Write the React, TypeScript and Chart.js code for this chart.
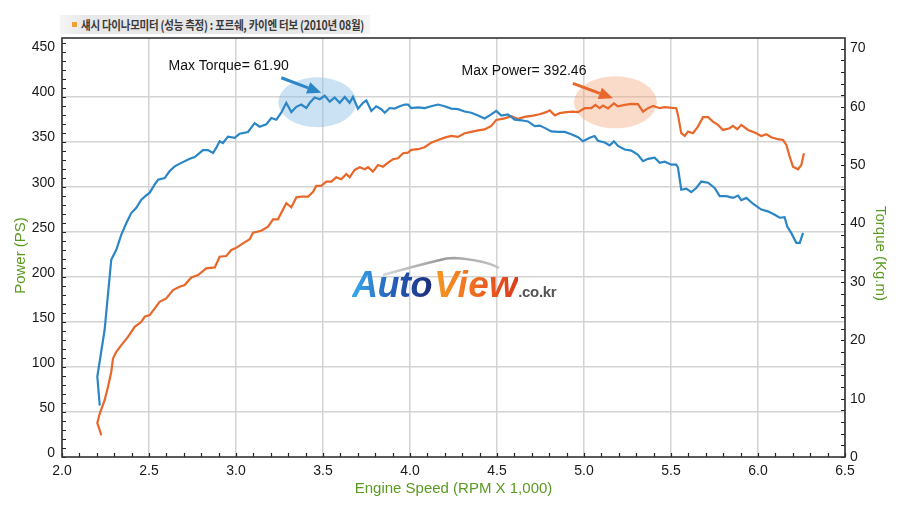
import React, { useEffect, useRef } from "react";
import { Chart, registerables } from "chart.js";

Chart.register(...registerables);

const chartTitle = "섀시 다이나모미터 (성능 측정) : 포르쉐, 카이엔 터보  (2010년 08월)";
const xTitle = "Engine Speed (RPM X 1,000)";
const leftTitle = "Power (PS)";
const rightTitle = "Torque (Kg.m)";
const maxTorqueLabel = "Max Torque= 61.90";
const maxPowerLabel = "Max Power= 392.46";

const rpmTicks = [2.0, 2.5, 3.0, 3.5, 4.0, 4.5, 5.0, 5.5, 6.0, 6.5];
const powerTicks = [0, 50, 100, 150, 200, 250, 300, 350, 400, 450];
const torqueTicks = [0, 10, 20, 30, 40, 50, 60, 70];

// torque curve (right axis, kg.m)
const torqueRpm = [
  2.217, 2.203, 2.245, 2.283, 2.312, 2.341, 2.370, 2.398, 2.427, 2.456,
  2.479, 2.504, 2.533, 2.552, 2.590, 2.619, 2.648, 2.686, 2.734, 2.763,
  2.810, 2.839, 2.868, 2.887, 2.906, 2.925, 2.954, 2.993, 3.021, 3.069,
  3.107, 3.136, 3.174, 3.203, 3.232, 3.260, 3.289, 3.318, 3.347, 3.375,
  3.404, 3.424, 3.452, 3.481, 3.510, 3.539, 3.567, 3.596, 3.625, 3.653,
  3.672, 3.701, 3.730, 3.749, 3.778, 3.806, 3.835, 3.855, 3.883, 3.912,
  3.941, 3.970, 3.989, 4.007, 4.046, 4.084, 4.122, 4.161, 4.199, 4.237,
  4.276, 4.314, 4.352, 4.391, 4.429, 4.467, 4.496, 4.525, 4.563, 4.602,
  4.640, 4.678, 4.717, 4.745, 4.774, 4.812, 4.851, 4.889, 4.927, 4.966,
  4.994, 5.033, 5.061, 5.080, 5.119, 5.148, 5.172, 5.195, 5.234, 5.272,
  5.310, 5.339, 5.368, 5.406, 5.435, 5.464, 5.502, 5.530, 5.540, 5.559,
  5.588, 5.617, 5.645, 5.674, 5.713, 5.751, 5.780, 5.818, 5.856, 5.885,
  5.904, 5.933, 5.971, 6.019, 6.057, 6.096, 6.125, 6.153, 6.168, 6.191,
  6.220, 6.240, 6.259,
];
const torqueKgm = [
  8.8, 13.8, 21.8, 33.8, 35.5, 38.1, 40.1, 41.8, 42.7, 44.1,
  44.7, 45.3, 46.7, 47.5, 47.8, 49.0, 49.8, 50.4, 51.1, 51.4,
  52.6, 52.6, 52.1, 53.0, 54.1, 53.8, 54.9, 54.7, 55.4, 55.7,
  57.2, 56.6, 57.0, 58.1, 57.8, 59.0, 60.7, 59.1, 60.0, 60.4,
  59.8, 60.7, 61.6, 61.3, 61.9, 60.9, 61.6, 60.7, 61.7, 60.7,
  61.7, 59.7, 60.7, 61.1, 59.3, 60.1, 59.6, 59.0, 59.8, 59.7,
  60.1, 60.4, 60.4, 59.8, 59.9, 59.8, 60.1, 60.4, 60.1, 59.7,
  59.6, 59.2, 59.0, 58.5, 58.0, 58.7, 59.3, 58.5, 58.7, 57.8,
  57.7, 57.5, 56.7, 56.8, 56.4, 55.8, 55.7, 55.7, 55.3, 54.8,
  54.1, 54.7, 55.0, 54.2, 53.9, 53.4, 54.1, 53.3, 52.7, 52.5,
  51.8, 50.7, 51.1, 51.3, 50.4, 50.6, 50.1, 50.1, 49.6, 45.8,
  46.0, 45.4, 46.1, 47.2, 47.0, 46.1, 44.7, 44.7, 44.4, 44.8,
  44.0, 44.4, 43.4, 42.4, 42.1, 41.5, 41.0, 41.1, 39.5, 38.4,
  36.7, 36.7, 38.4,
];

// power curve (left axis, PS)
const powerRpm = [
  2.226, 2.203, 2.217, 2.245, 2.264, 2.283, 2.293, 2.312, 2.341, 2.379,
  2.418, 2.456, 2.475, 2.504, 2.533, 2.561, 2.599, 2.638, 2.676, 2.705,
  2.743, 2.782, 2.829, 2.878, 2.906, 2.944, 2.973, 2.996, 3.040, 3.079,
  3.098, 3.145, 3.184, 3.213, 3.241, 3.289, 3.318, 3.347, 3.375, 3.414,
  3.443, 3.461, 3.490, 3.519, 3.548, 3.576, 3.605, 3.634, 3.653, 3.682,
  3.711, 3.740, 3.759, 3.787, 3.816, 3.845, 3.874, 3.902, 3.931, 3.960,
  3.989, 4.007, 4.046, 4.084, 4.122, 4.161, 4.199, 4.237, 4.276, 4.314,
  4.352, 4.391, 4.429, 4.467, 4.496, 4.544, 4.582, 4.621, 4.659, 4.707,
  4.745, 4.783, 4.803, 4.832, 4.860, 4.898, 4.937, 4.966, 5.004, 5.042,
  5.065, 5.090, 5.109, 5.138, 5.172, 5.195, 5.234, 5.272, 5.310, 5.339,
  5.368, 5.397, 5.435, 5.464, 5.493, 5.530, 5.540, 5.559, 5.579, 5.598,
  5.626, 5.655, 5.684, 5.713, 5.741, 5.770, 5.799, 5.837, 5.856, 5.881,
  5.904, 5.943, 5.981, 6.019, 6.048, 6.076, 6.115, 6.144, 6.163, 6.182,
  6.201, 6.230, 6.249, 6.264,
];
const powerPs = [
  24.1, 37.8, 48.2, 63.0, 77.8, 94.4, 109.3, 116.7, 124.1, 133.3,
  144.4, 150.0, 155.6, 157.4, 164.9, 172.2, 176.0, 185.2, 188.9, 190.8,
  199.3, 201.9, 209.3, 210.4, 222.2, 223.0, 229.7, 231.6, 237.1, 241.6,
  248.9, 251.1, 255.6, 263.8, 263.8, 281.6, 277.1, 288.2, 288.9, 288.9,
  294.4, 300.8, 300.8, 305.6, 305.6, 310.4, 308.2, 314.1, 310.4, 318.6,
  321.6, 319.3, 321.6, 316.7, 324.1, 322.2, 326.7, 330.4, 331.6, 337.1,
  337.8, 340.8, 341.6, 343.8, 348.9, 351.9, 354.4, 356.3, 355.2, 359.3,
  360.8, 362.4, 363.6, 367.4, 374.1, 375.8, 378.2, 375.2, 377.4, 378.9,
  380.4, 382.7, 384.7, 379.1, 381.6, 382.7, 383.3, 382.7, 387.1, 387.1,
  390.8, 387.1, 390.0, 386.9, 392.46, 389.1, 390.8, 391.9, 391.6, 383.3,
  387.1, 389.7, 387.1, 388.2, 387.8, 387.1, 379.7, 359.3, 356.3, 361.1,
  359.3, 366.7, 377.1, 377.1, 372.2, 368.6, 363.0, 364.9, 367.4, 363.8,
  368.6, 363.0, 360.1, 356.3, 358.2, 354.9, 352.7, 351.9, 346.3, 333.3,
  322.2, 319.3, 324.1, 337.1,
];

const BLUE = "#2b86c6";
const ORANGE = "#e8672a";
const GREEN = "#5b9a22";
const NARROW = '"Liberation Sans Narrow", "Liberation Sans", Arial, sans-serif';

const peakIndex = (arr: number[]) => arr.indexOf(Math.max(...arr));

function drawArrow(ctx: CanvasRenderingContext2D, x0: number, y0: number, x1: number, y1: number, color: string) {
  const ang = Math.atan2(y1 - y0, x1 - x0);
  const head = 14;
  const hw = 6;
  const bx = x1 - Math.cos(ang) * head;
  const by = y1 - Math.sin(ang) * head;
  ctx.save();
  ctx.strokeStyle = color;
  ctx.fillStyle = color;
  ctx.lineWidth = 3;
  ctx.beginPath();
  ctx.moveTo(x0, y0);
  ctx.lineTo(bx, by);
  ctx.stroke();
  ctx.beginPath();
  ctx.moveTo(x1, y1);
  ctx.lineTo(bx + Math.sin(ang) * hw, by - Math.cos(ang) * hw);
  ctx.lineTo(bx - Math.sin(ang) * hw, by + Math.cos(ang) * hw);
  ctx.closePath();
  ctx.fill();
  ctx.restore();
}

const decorPlugin = {
  id: "decor",
  beforeDatasetsDraw(chart: any) {
    const { ctx, scales } = chart;
    const ti = peakIndex(torqueKgm);
    const pi = peakIndex(powerPs);
    const tx = scales.x.getPixelForValue(torqueRpm[ti]);
    const ty = scales.y1.getPixelForValue(torqueKgm[ti]);
    const px = scales.x.getPixelForValue(powerRpm[pi]);
    const py = scales.y.getPixelForValue(powerPs[pi]);
    ctx.save();
    ctx.fillStyle = "rgba(140,190,232,0.45)";
    ctx.beginPath();
    ctx.ellipse(tx - 7.5, ty + 6.5, 39, 25, 0, 0, Math.PI * 2);
    ctx.fill();
    ctx.fillStyle = "rgba(242,170,128,0.42)";
    ctx.beginPath();
    ctx.ellipse(px + 1.5, py - 1, 41.5, 26, 0, 0, Math.PI * 2);
    ctx.fill();
    ctx.restore();
  },
  afterDatasetsDraw(chart: any) {
    const { ctx, chartArea, scales } = chart;
    const { left, right, top, bottom } = chartArea;
    ctx.save();
    // minor tick marks, pointing into the plot
    ctx.strokeStyle = "#222";
    ctx.lineWidth = 1.2;
    ctx.beginPath();
    for (let v = 20; v <= 65; v++) {
      const x = Math.round(scales.x.getPixelForValue(v / 10)) + 0.5;
      ctx.moveTo(x, bottom);
      ctx.lineTo(x, bottom - 4);
    }
    for (let v = 0; v <= 460; v += 10) {
      const y = Math.round(scales.y.getPixelForValue(v)) + 0.5;
      ctx.moveTo(left, y);
      ctx.lineTo(left + 4, y);
    }
    for (let v = 0; v <= 70; v += 2) {
      const y = Math.round(scales.y1.getPixelForValue(v)) + 0.5;
      ctx.moveTo(right, y);
      ctx.lineTo(right - 4, y);
    }
    ctx.stroke();
    // frame
    ctx.strokeStyle = "#333";
    ctx.lineWidth = 1.6;
    ctx.strokeRect(left, top, right - left, bottom - top);

    // peak annotations
    const ti = peakIndex(torqueKgm);
    const pi = peakIndex(powerPs);
    const tx = scales.x.getPixelForValue(torqueRpm[ti]);
    const ty = scales.y1.getPixelForValue(torqueKgm[ti]);
    const px = scales.x.getPixelForValue(powerRpm[pi]);
    const py = scales.y.getPixelForValue(powerPs[pi]);
    drawArrow(ctx, tx - 43.5, ty - 18, tx - 3.5, ty - 3, BLUE);
    drawArrow(ctx, px - 41, py - 20, px - 1, py - 5, ORANGE);
    ctx.fillStyle = "#111";
    ctx.font = `14px ${NARROW}`;
    ctx.textAlign = "right";
    ctx.textBaseline = "middle";
    ctx.fillText(maxTorqueLabel, tx - 36, ty - 30);
    ctx.fillText(maxPowerLabel, px - 27.5, py - 32.5);

    // axis titles
    ctx.fillStyle = GREEN;
    ctx.font = `15px ${NARROW}`;
    ctx.textAlign = "center";
    const midY = (top + bottom) / 2 + 8;
    ctx.save();
    ctx.translate(21, midY);
    ctx.rotate(-Math.PI / 2);
    ctx.fillText(leftTitle, 0, 0);
    ctx.restore();
    ctx.save();
    ctx.translate(880, midY - 2);
    ctx.rotate(Math.PI / 2);
    ctx.fillText(rightTitle, 0, 0);
    ctx.restore();
    ctx.restore();
  },
};

const tickFont = { family: NARROW, size: 14 };

const App: React.FC = () => {
  const canvasRef = useRef<HTMLCanvasElement | null>(null);
  const chartRef = useRef<Chart | null>(null);

  useEffect(() => {
    const ctx = canvasRef.current?.getContext("2d");
    if (!ctx) return;
    if (chartRef.current) chartRef.current.destroy();

    chartRef.current = new Chart(ctx, {
      type: "line",
      data: {
        datasets: [
          {
            label: "Torque",
            data: torqueRpm.map((x, i) => ({ x, y: torqueKgm[i] })),
            yAxisID: "y1",
            borderColor: BLUE,
            borderWidth: 2.2,
            pointRadius: 0,
            tension: 0,
          },
          {
            label: "Power",
            data: powerRpm.map((x, i) => ({ x, y: powerPs[i] })),
            yAxisID: "y",
            borderColor: ORANGE,
            borderWidth: 2.2,
            pointRadius: 0,
            tension: 0,
          },
        ],
      },
      options: {
        animation: false,
        responsive: false,
        layout: { padding: { top: 38 } },
        plugins: {
          legend: { display: false },
          tooltip: { enabled: false },
        },
        scales: {
          x: {
            type: "linear",
            min: 2,
            max: 6.5,
            afterFit: (s: any) => { s.height = 51; },
            afterBuildTicks: (s: any) => { s.ticks = rpmTicks.map((value) => ({ value })); },
            grid: { color: "#d3d3d3", lineWidth: 1.5, drawTicks: false },
            border: { display: false },
            ticks: {
              padding: 6,
              color: "#1a1a1a",
              font: tickFont,
              maxRotation: 0,
              autoSkip: false,
              callback: (v: any) => Number(v).toFixed(1),
            },
            title: {
              display: true,
              text: xTitle,
              color: GREEN,
              font: { family: NARROW, size: 15 },
              padding: { top: 0, bottom: 10 },
            },
          },
          y: {
            position: "left",
            min: 0,
            max: 465,
            afterFit: (s: any) => { s.width = 62; },
            afterBuildTicks: (s: any) => { s.ticks = powerTicks.map((value) => ({ value })); },
            grid: {
              color: (c: any) => (c.tick && (c.tick.value === 0 || c.tick.value === 450) ? "rgba(0,0,0,0)" : "#d3d3d3"),
              lineWidth: 1.5,
              drawTicks: false,
            },
            border: { display: false },
            ticks: { padding: 7, labelOffset: -4, color: "#1a1a1a", font: tickFont },
          },
          y1: {
            position: "right",
            min: 0,
            max: 71.8,
            afterFit: (s: any) => { s.width = 55; },
            afterBuildTicks: (s: any) => { s.ticks = torqueTicks.map((value) => ({ value })); },
            grid: { display: false, drawTicks: false },
            border: { display: false },
            ticks: { padding: 5, color: "#1a1a1a", font: tickFont },
          },
        },
      },
      plugins: [decorPlugin],
    } as any);

    return () => {
      if (chartRef.current) {
        chartRef.current.destroy();
        chartRef.current = null;
      }
    };
  }, []);

  const gradText = (bg: string) => ({
    background: bg,
    WebkitBackgroundClip: "text",
    backgroundClip: "text",
    color: "transparent",
    paddingRight: 2,
  });

  return (
    <div style={{ position: "absolute", left: 0, top: 0, width: 900, height: 508, background: "#fff", overflow: "hidden" }}>
      <canvas ref={canvasRef} width={900} height={508} style={{ display: "block" }} />
      <div
        style={{
          position: "absolute",
          left: 60,
          top: 15,
          width: 310,
          height: 19,
          display: "flex",
          alignItems: "center",
          background: "linear-gradient(90deg, #f5f5f5 0%, #e8e8e8 8%, #e8e8e8 92%, #f5f5f5 100%)",
          whiteSpace: "nowrap",
        }}
      >
        <span style={{ display: "inline-block", width: 5, height: 5, background: "#f0a030", margin: "0 4px 0 12px", flex: "none" }} />
        <span
          style={{
            display: "inline-block",
            transform: "scaleX(0.84)",
            transformOrigin: "left center",
            fontFamily: '"Noto Sans CJK KR", sans-serif',
            fontSize: 12.5,
            fontWeight: 700,
            color: "#3a3a3a",
            letterSpacing: -0.3,
          }}
        >
          {chartTitle}
        </span>
      </div>
      <svg width={900} height={508} style={{ position: "absolute", left: 0, top: 0, pointerEvents: "none" }}>
        <defs>
          <linearGradient id="swoosh" x1="0" x2="1" y1="0" y2="0">
            <stop offset="0" stopColor="#d8d8d8" />
            <stop offset="0.5" stopColor="#9a9a9a" />
            <stop offset="1" stopColor="#c4c4c4" />
          </linearGradient>
        </defs>
        <path d="M383 275 Q415 266 440 260 Q446 258 454 258 Q485 260 499 268" fill="none" stroke="url(#swoosh)" strokeWidth={2.5} />
      </svg>
      <div
        style={{
          position: "absolute",
          left: 352,
          top: 267,
          whiteSpace: "nowrap",
          fontFamily: '"Liberation Sans", Arial, sans-serif',
          fontWeight: 700,
          fontStyle: "italic",
          fontSize: 36,
          lineHeight: "36px",
          letterSpacing: -0.5,
        }}
      >
        <span style={gradText("linear-gradient(90deg, #3aa9ec 0%, #2560b8 50%, #1c2a78 100%)")}>Auto</span>
        <span style={{ ...gradText("linear-gradient(90deg, #f59a22 0%, #ee6a20 50%, #dc3a1c 100%)"), fontSize: 37, letterSpacing: 0.3, paddingRight: 0 }}>View</span>
        <span style={{ fontSize: 15, fontStyle: "normal", color: "#555", letterSpacing: -0.3 }}>.co.kr</span>
      </div>
    </div>
  );
};

export default App;
